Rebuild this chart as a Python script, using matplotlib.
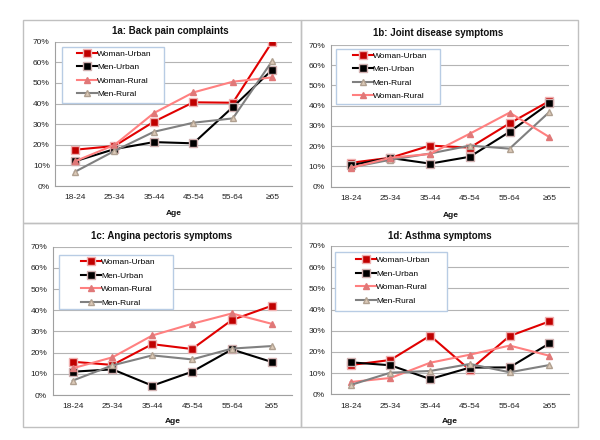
import matplotlib
matplotlib.use("Agg")
import matplotlib.pyplot as plt
from matplotlib.patches import Rectangle
from matplotlib.ticker import PercentFormatter, MultipleLocator

plt.rcParams['font.family'] = ['Liberation Sans', 'DejaVu Sans']

ages = ['18-24', '25-34', '35-44', '45-54', '55-64', '≥65']

# 1a: back pain complaints (%)
back_woman_urban = [17.6, 19.4, 31.2, 40.6, 40.4, 70.0]
back_men_urban = [12.0, 17.9, 21.3, 20.7, 38.3, 56.4]
back_woman_rural = [12.0, 19.9, 35.4, 45.4, 50.6, 52.7]
back_men_rural = [6.9, 17.0, 26.3, 30.7, 32.8, 60.7]

# 1b: joint disease symptoms (%)
joint_woman_urban = [11.8, 14.3, 20.3, 19.3, 31.3, 42.3]
joint_men_urban = [10.6, 14.2, 11.4, 14.8, 27.1, 41.2]
joint_men_rural = [9.5, 13.3, 16.4, 20.3, 18.8, 36.9]
joint_woman_rural = [9.3, 14.3, 16.2, 26.2, 36.6, 24.5]

# 1c: angina pectoris symptoms (%)
angina_woman_urban = [15.7, 14.2, 24.0, 21.7, 35.4, 42.1]
angina_men_urban = [11.0, 12.1, 4.4, 11.0, 21.5, 15.6]
angina_woman_rural = [12.6, 17.8, 28.1, 33.6, 38.5, 33.6]
angina_men_rural = [6.8, 14.0, 18.7, 16.8, 21.9, 23.1]

# 1d: asthma symptoms (%)
asthma_woman_urban = [13.8, 16.2, 27.7, 11.5, 27.5, 34.4]
asthma_men_urban = [15.1, 13.7, 7.2, 12.6, 12.7, 24.0]
asthma_woman_rural = [5.8, 7.7, 14.9, 18.7, 23.0, 18.2]
asthma_men_rural = [4.4, 10.2, 11.0, 14.3, 10.4, 13.8]

styles = {
    'Woman-Urban': dict(color='#e00000', marker='s', mfc='#c00000', mec='#f0b0b0', ms=5.5, lw=1.5),
    'Men-Urban': dict(color='#000000', marker='s', mfc='#000000', mec='#d0b0b0', ms=5.5, lw=1.5),
    'Woman-Rural': dict(color='#ff8080', marker='^', mfc='#e07878', mec='#e07878', ms=5, lw=1.5),
    'Men-Rural': dict(color='#808080', marker='^', mfc='#dccab8', mec='#b0a090', ms=5, lw=1.5),
}

W, H = 600, 440


def fx(x):
    return x / W


def fy(y):
    return 1 - y / H


panels = [
    dict(title='1a: Back pain complaints',
         series=[('Woman-Urban', back_woman_urban), ('Men-Urban', back_men_urban),
                 ('Woman-Rural', back_woman_rural), ('Men-Rural', back_men_rural)],
         ax=(55.3, 41.7, 292.0, 186.0), box=(23, 20, 301, 223),
         title_xy=(170, 31), age_xy=(174, 213),
         leg_box=(62, 47, 164, 103), leg_anchor=(77, 50)),
    dict(title='1b: Joint disease symptoms',
         series=[('Woman-Urban', joint_woman_urban), ('Men-Urban', joint_men_urban),
                 ('Men-Rural', joint_men_rural), ('Woman-Rural', joint_woman_rural)],
         ax=(330.8, 45.0, 569.2, 186.7), box=(301, 20, 578, 223),
         title_xy=(438, 33), age_xy=(451, 215),
         leg_box=(336, 49, 440, 104), leg_anchor=(352.7, 51.7)),
    dict(title='1c: Angina pectoris symptoms',
         series=[('Woman-Urban', angina_woman_urban), ('Men-Urban', angina_men_urban),
                 ('Woman-Rural', angina_woman_rural), ('Men-Rural', angina_men_rural)],
         ax=(52.8, 246.7, 291.6, 395.0), box=(23, 223, 301, 427),
         title_xy=(162, 236), age_xy=(173, 421),
         leg_box=(59.3, 255, 173, 309), leg_anchor=(81, 258.4)),
    dict(title='1d: Asthma symptoms',
         series=[('Woman-Urban', asthma_woman_urban), ('Men-Urban', asthma_men_urban),
                 ('Woman-Rural', asthma_woman_rural), ('Men-Rural', asthma_men_rural)],
         ax=(330.8, 246.0, 569.2, 394.3), box=(301, 223, 578, 427),
         title_xy=(440, 236), age_xy=(450, 421),
         leg_box=(335, 252.3, 447, 310.7), leg_anchor=(356, 256.4)),
]

fig = plt.figure(figsize=(6, 4.4), dpi=100)
fig.patch.set_facecolor('white')

for p in panels:
    x0, y0, x1, y1 = p['ax']
    ax = fig.add_axes([fx(x0), fy(y1), (x1 - x0) / W, (y1 - y0) / H])
    xs = range(len(ages))
    for name, vals in p['series']:
        ax.plot(xs, vals, label=name, zorder=3, **styles[name])

    ax.set_xlim(-0.5, len(ages) - 0.5)
    ax.set_ylim(0, 70)
    ax.yaxis.set_major_locator(MultipleLocator(10))
    ax.yaxis.set_major_formatter(PercentFormatter(decimals=0))
    ax.set_xticks(list(xs))
    ax.set_xticklabels(ages)
    ax.tick_params(axis='both', length=0, labelsize=6, colors='#222222')
    ax.tick_params(axis='x', pad=6)
    ax.tick_params(axis='y', pad=4)
    ax.grid(axis='y', color='#b4b4b4', lw=0.8)
    ax.set_axisbelow(True)
    for s in ['top', 'right']:
        ax.spines[s].set_visible(False)
    for s in ['left', 'bottom']:
        ax.spines[s].set_color('#a0a0a0')
        ax.spines[s].set_linewidth(0.8)

    # legend box
    lb = p['leg_box']
    ax.add_patch(Rectangle((fx(lb[0]), fy(lb[3])), (lb[2] - lb[0]) / W, (lb[3] - lb[1]) / H,
                           transform=fig.transFigure, facecolor='white', edgecolor='#b8cce4',
                           lw=1.0, zorder=4, clip_on=False))
    la = p['leg_anchor']
    leg = ax.legend(loc='upper left', bbox_to_anchor=(fx(la[0]), fy(la[1])),
                    bbox_transform=fig.transFigure, frameon=False, fontsize=6,
                    handlelength=2.4, handletextpad=0.0, labelspacing=0.68,
                    borderpad=0, borderaxespad=0)
    leg.set_zorder(5)

    # chart box
    b = p['box']
    fig.add_artist(Rectangle((fx(b[0]), fy(b[3])), (b[2] - b[0]) / W, (b[3] - b[1]) / H,
                             transform=fig.transFigure, facecolor='none', edgecolor='#c0c0c0',
                             lw=1.0, zorder=-1))

    fig.text(fx(p['title_xy'][0]), fy(p['title_xy'][1]), p['title'], ha='center', va='center',
             fontsize=7, fontweight='bold', color='#111111')
    fig.text(fx(p['age_xy'][0]), fy(p['age_xy'][1]), 'Age', ha='center', va='center',
             fontsize=6, fontweight='bold', color='#111111')

fig.savefig('out.png', dpi=100, facecolor='white')
